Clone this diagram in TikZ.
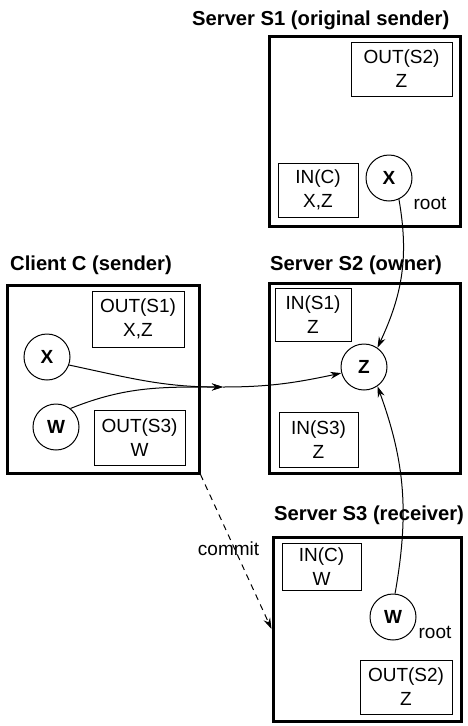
\documentclass[tikz,border=0pt]{standalone}
\usepackage{fontspec}
\setmainfont{Liberation Sans}
\usetikzlibrary{arrows.meta}

\tikzset{
	site/.style={draw, line width=3pt, inner sep=0pt},
	buf/.style={draw, line width=1pt, align=center, inner sep=0pt, font=\fontsize{19}{24}\selectfont},
	obj/.style={draw, circle, line width=1pt, minimum size=46pt, inner sep=0pt, font=\fontsize{19}{23}\selectfont\bfseries},
	head/.style={anchor=west, inner sep=0pt, font=\fontsize{20.2}{23}\selectfont\bfseries},
	note/.style={inner sep=0pt, font=\fontsize{19}{23}\selectfont},
	msg/.style={line width=1pt, -{Stealth[length=11pt,width=7pt]}},
}

\begin{document}
\begin{tikzpicture}[x=1pt, y=1pt]
	\useasboundingbox (0,0) rectangle (468,-726);
	% servers and client
	\node[site, minimum width=191pt, minimum height=190pt] (s1) at (364.5,-131) {};
	\node[site, minimum width=192pt, minimum height=188pt] (c) at (103,-379) {};
	\node[site, minimum width=191pt, minimum height=190pt] (s2) at (364.5,-378) {};
	\node[site, minimum width=188pt, minimum height=184pt] (s3) at (367,-629) {};
	\node[head] (s1t) at (192,-20) {Server S1 (original sender)};
	\node[head] (ct) at (10,-265) {Client C (sender)};
	\node[head] (s2t) at (270,-265) {Server S2 (owner)};
	\node[head] (s3t) at (274,-515) {Server S3 (receiver)};
	% buffers
	\node[buf, minimum width=101pt, minimum height=54pt] (s1out) at (401.5,-69) {OUT(S2)\\Z};
	\node[buf, minimum width=80pt, minimum height=54pt] (s1in) at (318,-190) {IN(C)\\X,Z};
	\node[buf, minimum width=92pt, minimum height=56pt] (cout1) at (138,-319) {OUT(S1)\\X,Z};
	\node[buf, minimum width=91pt, minimum height=55pt] (cout3) at (139.5,-437.5) {OUT(S3)\\W};
	\node[buf, minimum width=76pt, minimum height=53pt] (s2in1) at (313,-314.5) {IN(S1)\\Z};
	\node[buf, minimum width=79pt, minimum height=55pt] (s2in3) at (318.5,-439.5) {IN(S3)\\Z};
	\node[buf, minimum width=79pt, minimum height=47pt] (s3in) at (321.5,-566.5) {IN(C)\\W};
	\node[buf, minimum width=92pt, minimum height=54pt] (s3out) at (406,-687) {OUT(S2)\\Z};
	% objects
	\node[obj] (s1x) at (389,-178) {X};
	\node[obj] (cx) at (47,-357) {X};
	\node[obj] (cw) at (56,-427) {W};
	\node[obj] (s2z) at (364,-367) {Z};
	\node[obj] (s3w) at (393,-617) {W};
	\node[note] (root1) at (430,-203) {root};
	\node[note] (root3) at (435,-632) {root};
	\coordinate (join) at (223,-387);
	% references
	\draw[msg] (s1x.-65) to[out=-80, in=65] (s2z.55);
	\draw[msg] (cx.-20) to[out=-12, in=180] (join);
	\draw[msg] (cw.52) to[out=22, in=180] (join);
	\draw[msg] (join) to[out=0, in=192] (s2z.195);
	\draw[msg] (s3w.85) to[out=80, in=-70] (s2z.-55);
	\draw[msg, dash pattern=on 6pt off 5pt] (c.south east) -- (s3.west)
		node[note, pos=0.48, xshift=-6pt] (commit) {commit};
\end{tikzpicture}
\end{document}
